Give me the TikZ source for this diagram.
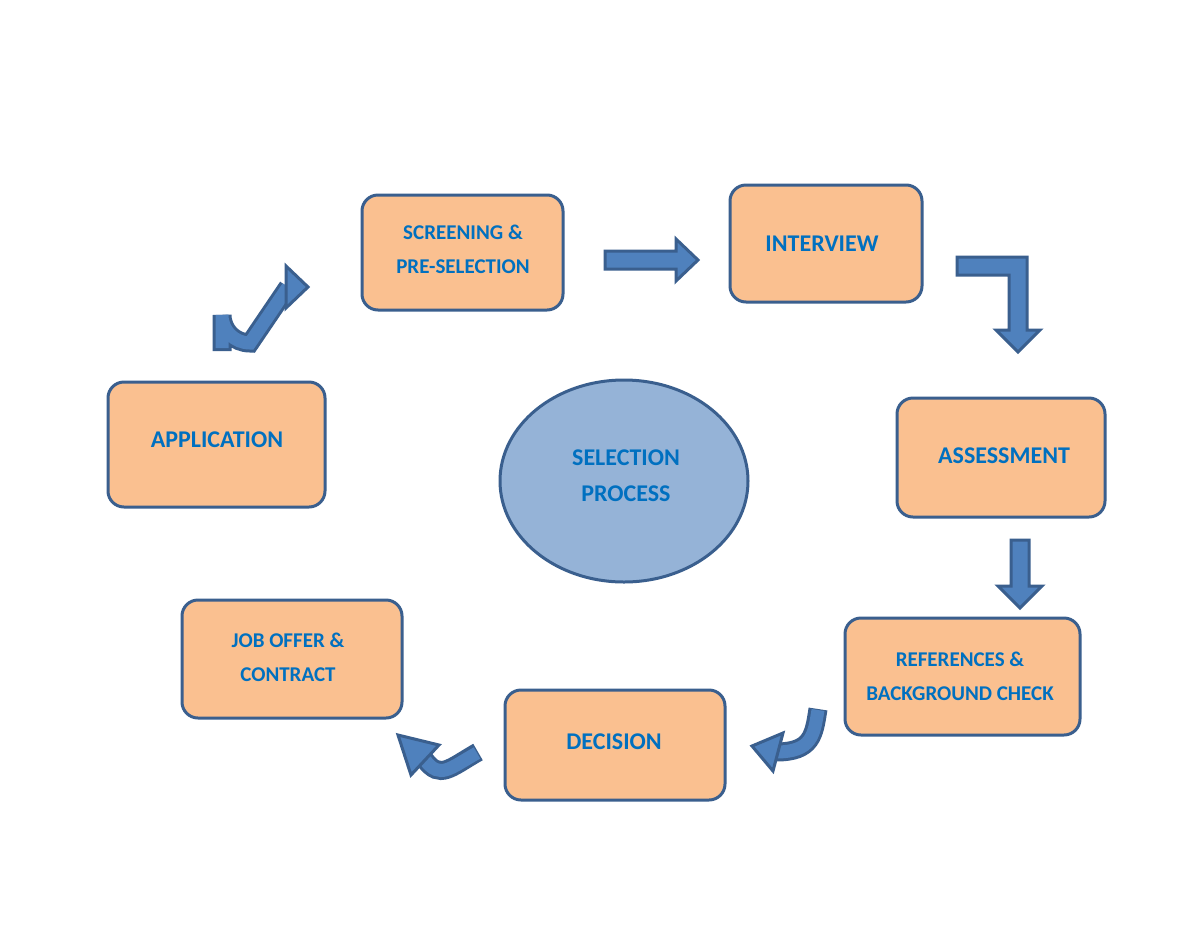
\documentclass[tikz,border=0pt]{standalone}
\usepackage{fontspec}
\setmainfont{Carlito}
\begin{document}
\definecolor{boxfill}{HTML}{FAC090}
\definecolor{boxline}{HTML}{3A5F8E}
\definecolor{txt}{HTML}{0070C0}
\definecolor{arrfill}{HTML}{4F81BD}
\definecolor{ellfill}{HTML}{95B3D7}
\begin{tikzpicture}[x=0.5pt,y=-0.5pt,
  box/.style={draw=boxline,line width=1.5pt,fill=boxfill,rounded corners=8pt},
  lbl/.style={text=txt,font=\bfseries,align=center,inner sep=0pt},
  big/.style={lbl,font=\bfseries\fontsize{12}{18}\selectfont},
  small/.style={lbl,font=\bfseries\fontsize{10.5}{17}\selectfont},
  sb/.style={draw=boxline,line width=9.5pt},
  sf/.style={draw=arrfill,line width=6.5pt},
  head/.style={draw=boxline,line width=1.5pt,fill=arrfill,line join=miter}]
\useasboundingbox (0,0) rectangle (1200,927);
\fill[white] (0,0) rectangle (1200,927);
% boxes
\draw[box] (362,195) rectangle (563,310);
\draw[box] (730,185) rectangle (922,302);
\draw[box] (108,382) rectangle (325,507);
\draw[box] (897,398) rectangle (1105,517);
\draw[box] (845,618) rectangle (1080,735);
\draw[box] (505,690) rectangle (725,800);
\draw[box] (182,600) rectangle (402,718);
\draw[draw=boxline,line width=1.5pt,fill=ellfill] (624,481) ellipse [x radius=124, y radius=101];
% texts
\node[small] (t1) at (463,249) {SCREENING \&\\PRE-SELECTION};
\node[big] (t2) at (822,244) {INTERVIEW};
\node[big] (t3) at (217,440) {APPLICATION};
\node[big] (t4) at (1004,456) {ASSESSMENT};
\node[small] (t5) at (960,676) {REFERENCES \&\\BACKGROUND CHECK};
\node[big] (t6) at (614,742) {DECISION};
\node[small] (t7) at (288,657) {JOB OFFER \&\\CONTRACT};
\node[big] (t8) at (626,476) {SELECTION\\PROCESS};
% arrow 1: bent up-right
\draw[sb] (222,351) -- (222,315) arc[start angle=180,end angle=90,radius=28] -- (288,287);
\draw[sf] (222,348) -- (222,315) arc[start angle=180,end angle=90,radius=28] -- (288,287);
\draw[head] (286,266) -- (308,287) -- (286,308) -- cycle;
% arrow 2: straight right
\draw[head] (605,251) -- (676,251) -- (676,239) -- (698,260) -- (676,281) -- (676,269) -- (605,269) -- cycle;
% arrow 3: right then down
\draw[head] (957,257) -- (1027,257) -- (1027,330) -- (1040,330) -- (1018,352) -- (996,330) -- (1009,330) -- (1009,275) -- (957,275) -- cycle;
% arrow 4: down
\draw[head] (1011,540) -- (1029,540) -- (1029,586) -- (1042,586) -- (1020,608) -- (998,586) -- (1011,586) -- cycle;
% arrow 5: curved down-left
\draw[sb] (818,709) .. controls (814,735) and (812,752) .. (776,752);
\draw[sf] (818,710) .. controls (814,735) and (812,752) .. (776,752);
\draw[head] (783,733) -- (752,746) -- (773,771) -- cycle;
% arrow 6: curved left-up
\draw[sb] (478,752) .. controls (450,768) and (440,780) .. (425,760);
\draw[sf] (477,753) .. controls (450,768) and (440,780) .. (425,760);
\draw[head] (439,745) -- (398,735) -- (411,775) -- cycle;
\end{tikzpicture}
\end{document}
